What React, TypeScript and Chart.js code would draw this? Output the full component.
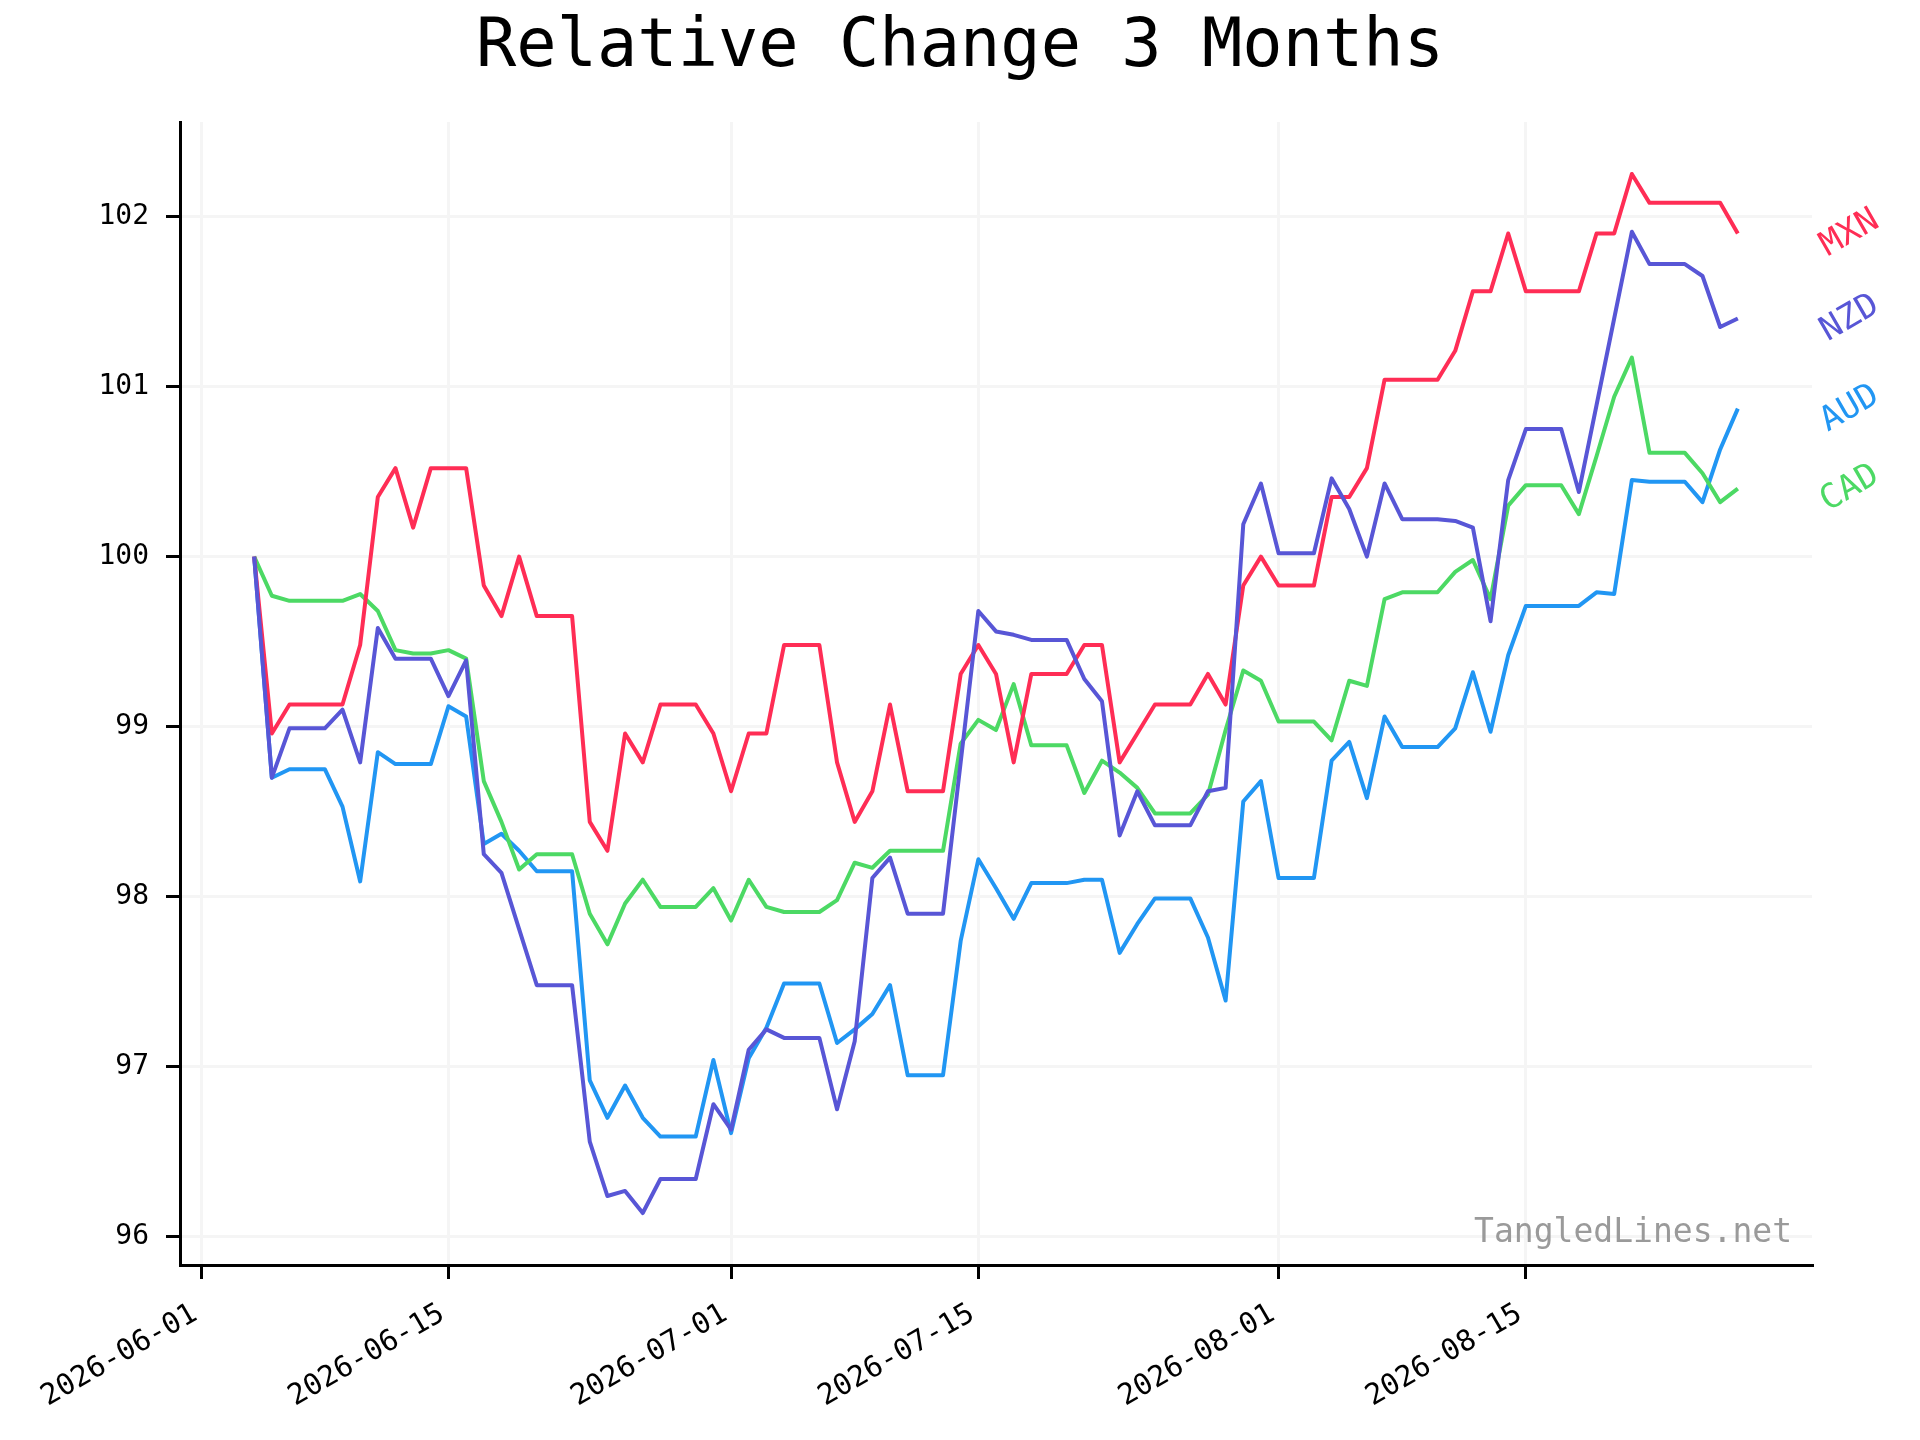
import React, { useEffect, useRef } from 'react';
import { Chart, registerables } from 'chart.js';

Chart.register(...registerables);

const FONT = '"DejaVu Sans Mono", "Liberation Mono", monospace';

const title = 'Relative Change 3 Months';
const watermark = 'TangledLines.net';

// daily values, first point on 2026-06-04
const firstDate = '2026-06-04';
const tickDates = ['2026-06-01', '2026-06-15', '2026-07-01', '2026-07-15', '2026-08-01', '2026-08-15'];
const yTicks = [96, 97, 98, 99, 100, 101, 102];

const mxn = [
  100.0, 98.96, 99.13, 99.13, 99.13, 99.13, 99.48, 100.35, 100.52, 100.17,
  100.52, 100.52, 100.52, 99.83, 99.65, 100.0, 99.65, 99.65, 99.65, 98.44,
  98.27, 98.96, 98.79, 99.13, 99.13, 99.13, 98.96, 98.62, 98.96, 98.96,
  99.48, 99.48, 99.48, 98.79, 98.44, 98.62, 99.13, 98.62, 98.62, 98.62,
  99.31, 99.48, 99.31, 98.79, 99.31, 99.31, 99.31, 99.48, 99.48, 98.79,
  98.96, 99.13, 99.13, 99.13, 99.31, 99.13, 99.83, 100.0, 99.83, 99.83,
  99.83, 100.35, 100.35, 100.52, 101.04, 101.04, 101.04, 101.04, 101.21, 101.56,
  101.56, 101.9, 101.56, 101.56, 101.56, 101.56, 101.9, 101.9, 102.25, 102.08,
  102.08, 102.08, 102.08, 102.08, 101.9,
];

const nzd = [
  100.0, 98.7, 98.99, 98.99, 98.99, 99.1, 98.79, 99.58, 99.4, 99.4,
  99.4, 99.18, 99.39, 98.25, 98.14, 97.81, 97.48, 97.48, 97.48, 96.56,
  96.24, 96.27, 96.14, 96.34, 96.34, 96.34, 96.78, 96.63, 97.1, 97.22,
  97.17, 97.17, 97.17, 96.75, 97.15, 98.11, 98.23, 97.9, 97.9, 97.9,
  98.79, 99.68, 99.56, 99.54, 99.51, 99.51, 99.51, 99.28, 99.15, 98.36,
  98.62, 98.42, 98.42, 98.42, 98.62, 98.64, 100.19, 100.43, 100.02, 100.02,
  100.02, 100.46, 100.28, 100.0, 100.43, 100.22, 100.22, 100.22, 100.21, 100.17,
  99.62, 100.45, 100.75, 100.75, 100.75, 100.38, 100.89, 101.4, 101.91, 101.72,
  101.72, 101.72, 101.65, 101.35, 101.4,
];

const aud = [
  100.0, 98.7, 98.75, 98.75, 98.75, 98.53, 98.09, 98.85, 98.78, 98.78,
  98.78, 99.12, 99.06, 98.31, 98.37, 98.27, 98.15, 98.15, 98.15, 96.92,
  96.7, 96.89, 96.7, 96.59, 96.59, 96.59, 97.04, 96.61, 97.05, 97.23,
  97.49, 97.49, 97.49, 97.14, 97.22, 97.31, 97.48, 96.95, 96.95, 96.95,
  97.74, 98.22, 98.05, 97.87, 98.08, 98.08, 98.08, 98.1, 98.1, 97.67,
  97.84, 97.99, 97.99, 97.99, 97.76, 97.39, 98.56, 98.68, 98.11, 98.11,
  98.11, 98.8, 98.91, 98.58, 99.06, 98.88, 98.88, 98.88, 98.99, 99.32,
  98.97, 99.42, 99.71, 99.71, 99.71, 99.71, 99.79, 99.78, 100.45, 100.44,
  100.44, 100.44, 100.32, 100.63, 100.87,
];

const cad = [
  100.0, 99.77, 99.74, 99.74, 99.74, 99.74, 99.78, 99.68, 99.45, 99.43,
  99.43, 99.45, 99.4, 98.68, 98.44, 98.16, 98.25, 98.25, 98.25, 97.9,
  97.72, 97.96, 98.1, 97.94, 97.94, 97.94, 98.05, 97.86, 98.1, 97.94,
  97.91, 97.91, 97.91, 97.98, 98.2, 98.17, 98.27, 98.27, 98.27, 98.27,
  98.9, 99.04, 98.98, 99.25, 98.89, 98.89, 98.89, 98.61, 98.8, 98.73,
  98.64, 98.49, 98.49, 98.49, 98.6, 98.98, 99.33, 99.27, 99.03, 99.03,
  99.03, 98.92, 99.27, 99.24, 99.75, 99.79, 99.79, 99.79, 99.91, 99.98,
  99.75, 100.3, 100.42, 100.42, 100.42, 100.25, 100.59, 100.94, 101.17, 100.61,
  100.61, 100.61, 100.49, 100.32, 100.4,
];

// first entry is drawn on top
const series = [
  { name: 'NZD', color: '#5856d6', values: nzd },
  { name: 'MXN', color: '#ff2d55', values: mxn },
  { name: 'CAD', color: '#4cd964', values: cad },
  { name: 'AUD', color: '#2196f3', values: aud },
];

const DAY = 86400000;
const origin = Date.parse(tickDates[0]);
const toDay = (d: string) => (Date.parse(d) - origin) / DAY;
const dates = mxn.map((_, i) =>
  new Date(Date.parse(firstDate) + i * DAY).toISOString().slice(0, 10)
);
const days = dates.map(toDay);
const tickDays = tickDates.map(toDay);

// matplotlib style 5% margins
const xSpan = days[days.length - 1] - days[0];
const allValues = [...mxn, ...nzd, ...aud, ...cad];
const yLo = Math.min(...allValues);
const yHi = Math.max(...allValues);
const ySpan = yHi - yLo;

const overlay = {
  id: 'overlay',
  afterDatasetsDraw(chart: any) {
    const { ctx, chartArea, scales } = chart;
    ctx.save();

    ctx.font = `34px ${FONT}`;
    ctx.textAlign = 'center';
    ctx.textBaseline = 'middle';
    series.forEach((s) => {
      const y = scales.y.getPixelForValue(s.values[s.values.length - 1]);
      ctx.save();
      ctx.translate(chartArea.right + 38, y);
      ctx.rotate(-Math.PI / 6);
      ctx.fillStyle = s.color;
      ctx.fillText(s.name, 0, 0);
      ctx.restore();
    });

    ctx.font = `33px ${FONT}`;
    ctx.fillStyle = '#9a9a9a';
    ctx.textAlign = 'right';
    ctx.textBaseline = 'alphabetic';
    ctx.fillText(watermark, chartArea.right - 20, chartArea.bottom - 23);

    ctx.font = `67px ${FONT}`;
    ctx.fillStyle = '#000';
    ctx.textAlign = 'center';
    ctx.fillText(title, chart.width / 2, 66);

    ctx.restore();
  },
};

const App: React.FC = () => {
  const canvasRef = useRef<HTMLCanvasElement>(null);

  useEffect(() => {
    document.body.style.margin = '0';
    if (!canvasRef.current) return;

    const chart = new Chart(canvasRef.current, {
      type: 'line',
      data: {
        datasets: series.map((s) => ({
          label: s.name,
          data: s.values.map((v, i) => ({ x: days[i], y: v })),
          borderColor: s.color,
          borderWidth: 4,
          pointRadius: 0,
          tension: 0,
          fill: false,
          borderJoinStyle: 'round' as const,
        })),
      },
      options: {
        responsive: false,
        animation: false,
        layout: { padding: { top: 122, right: 108, bottom: 0, left: 0 } },
        plugins: {
          legend: { display: false },
          tooltip: { enabled: false },
        },
        scales: {
          x: {
            type: 'linear',
            min: days[0] - 0.05 * xSpan,
            max: days[days.length - 1] + 0.05 * xSpan,
            afterBuildTicks: (scale: any) => {
              scale.ticks = tickDays.map((v) => ({ value: v }));
            },
            afterFit: (scale: any) => {
              scale.height = 175;
            },
            grid: {
              color: '#f5f5f5',
              lineWidth: 3,
              tickColor: '#000',
              tickWidth: 3,
              tickLength: 14,
            },
            border: { color: '#000', width: 3 },
            ticks: {
              autoSkip: false,
              minRotation: 30,
              maxRotation: 30,
              padding: 18,
              labelOffset: -6,
              color: '#000',
              font: { family: FONT, size: 29 },
              callback: (value: any) => {
                const i = tickDays.indexOf(Number(value));
                return i >= 0 ? tickDates[i] : '';
              },
            },
          },
          y: {
            type: 'linear',
            min: yLo - 0.05 * ySpan,
            max: yHi + 0.05 * ySpan,
            afterBuildTicks: (scale: any) => {
              scale.ticks = yTicks.map((v) => ({ value: v }));
            },
            afterFit: (scale: any) => {
              scale.width = 180;
            },
            grid: {
              color: '#f5f5f5',
              lineWidth: 3,
              tickColor: '#000',
              tickWidth: 3,
              tickLength: 14,
            },
            border: { color: '#000', width: 3 },
            ticks: {
              padding: 17,
              color: '#000',
              font: { family: FONT, size: 28 },
              callback: (value: any) => String(value),
            },
          },
        },
      },
      plugins: [overlay],
    });

    return () => {
      chart.destroy();
    };
  }, []);

  return (
    <div style={{ width: 1920, height: 1440, background: '#fff' }}>
      <canvas ref={canvasRef} width={1920} height={1440} style={{ display: 'block' }} />
    </div>
  );
};

export default App;
